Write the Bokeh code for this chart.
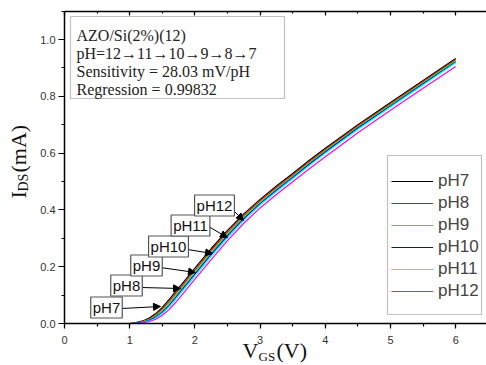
import math
from bokeh.plotting import figure
from bokeh.models import (Range1d, LinearAxis, Label, Arrow, NormalHead, BoxAnnotation,
                          Legend, LegendItem, SingleIntervalTicker, NumeralTickFormatter)
from bokeh.embed import file_html
from bokeh.resources import INLINE

# ---------------- data ----------------
vgs = [0, 0.5, 1.0, 1.1, 1.2, 1.3, 1.4, 1.5, 1.6, 1.7, 1.8, 1.9, 2.0,
       2.25, 2.5, 2.75, 3.0, 3.25, 3.5, 3.75, 4.0, 4.5, 5.0, 5.5, 6.0]
ids_ph7 = [0, 0, 0, 0.003, 0.009, 0.019, 0.035, 0.057, 0.083, 0.111, 0.139, 0.167, 0.195,
           0.264, 0.328, 0.386, 0.437, 0.484, 0.528, 0.574, 0.617, 0.700, 0.778, 0.856, 0.933]
ids_ph8 = [0, 0, 0, 0.002, 0.008, 0.016, 0.031, 0.051, 0.076, 0.104, 0.132, 0.160, 0.188,
           0.257, 0.322, 0.380, 0.432, 0.479, 0.523, 0.569, 0.613, 0.696, 0.774, 0.852, 0.929]
ids_ph9 = [0, 0, 0, 0.001, 0.006, 0.014, 0.027, 0.046, 0.070, 0.097, 0.125, 0.153, 0.181,
           0.250, 0.315, 0.374, 0.427, 0.474, 0.519, 0.564, 0.608, 0.692, 0.770, 0.848, 0.925]
ids_ph10 = [0, 0, 0, 0.001, 0.004, 0.011, 0.023, 0.040, 0.063, 0.090, 0.118, 0.146, 0.174,
            0.243, 0.309, 0.369, 0.422, 0.469, 0.514, 0.560, 0.604, 0.688, 0.766, 0.844, 0.921]
ids_ph11 = [0, 0, 0, 0.000, 0.003, 0.009, 0.019, 0.035, 0.057, 0.083, 0.111, 0.139, 0.167,
            0.236, 0.302, 0.363, 0.417, 0.464, 0.510, 0.555, 0.599, 0.683, 0.762, 0.840, 0.918]
ids_ph12 = [0, 0, 0, 0.000, 0.002, 0.007, 0.015, 0.029, 0.048, 0.073, 0.100, 0.128, 0.156,
            0.225, 0.292, 0.353, 0.407, 0.454, 0.499, 0.544, 0.587, 0.672, 0.751, 0.828, 0.905]
series_names = ["pH7", "pH8", "pH9", "pH10", "pH11", "pH12"]
series_values = [ids_ph7, ids_ph8, ids_ph9, ids_ph10, ids_ph11, ids_ph12]
series_colors = ["#000000", "#FF0000", "#00FF00", "#0000FF", "#00FFFF", "#FF00FF"]

info_lines = ["AZO/Si(2%)(12)",
              "pH=12\u219211\u219210\u21929\u21928\u21927",
              "Sensitivity = 28.03 mV/pH",
              "Regression = 0.99832"]

# ---------------- geometry (page pixels of the reference) ----------------
W, H = 486, 365
X0_PX, Y0_PX = 64, 323        # pixel of (0, 0)
PX_PER_X, PX_PER_Y = 65.2, 284.0
def dx(px):
    return (px - X0_PX) / PX_PER_X
def dy(py):
    return (Y0_PX - py) / PX_PER_Y

Y_TOP = 1.1
X_RIGHT = dx(W)

p = figure(width=W, height=H, output_backend="svg", toolbar_location=None,
           x_range=Range1d(dx(0), dx(W)), y_range=Range1d(dy(H), dy(0)),
           x_axis_type=None, y_axis_type=None,
           min_border_left=0, min_border_right=0, min_border_top=0, min_border_bottom=0)
p.grid.visible = False
p.outline_line_alpha = 0

SANS = "Liberation Sans"
SERIF = "Liberation Serif"

xa = LinearAxis(fixed_location=0, bounds=(0, X_RIGHT),
                ticker=SingleIntervalTicker(interval=1, num_minor_ticks=2))
ya = LinearAxis(fixed_location=0, bounds=(0, Y_TOP),
                ticker=SingleIntervalTicker(interval=0.2, num_minor_ticks=2),
                formatter=NumeralTickFormatter(format="0.0"))
for ax, out, standoff in ((xa, 5, 7), (ya, 6, 3)):
    ax.axis_line_width = 1.5
    ax.axis_line_color = "black"
    ax.major_tick_out = out
    ax.major_tick_in = 0
    ax.minor_tick_out = 3
    ax.minor_tick_in = 0
    ax.major_tick_line_width = 1.2
    ax.minor_tick_line_width = 1.2
    ax.major_label_text_font = SANS
    ax.major_label_text_font_size = "11px"
    ax.major_label_text_color = "#333333"
    ax.major_label_standoff = standoff
p.add_layout(xa, "below")
p.add_layout(ya, "left")

top = LinearAxis(fixed_location=Y_TOP, bounds=(0, X_RIGHT),
                 ticker=SingleIntervalTicker(interval=1, num_minor_ticks=2),
                 major_label_overrides={i: "" for i in range(8)},
                 major_tick_in=4, major_tick_out=0, minor_tick_in=2, minor_tick_out=0,
                 axis_line_width=1.5, major_tick_line_width=1.2, minor_tick_line_width=1.2)
p.add_layout(top, "above")

# ---------------- curves ----------------
items = []
for name, ys, col in zip(series_names, series_values, series_colors):
    r = p.line(vgs, ys, line_color=col, line_width=1.2)
    items.append(LegendItem(label=name, renderers=[r]))

legend = Legend(items=items, location=(387, H - 305), margin=0, padding=4,
                label_text_font=SANS, label_text_font_size="17px",
                glyph_width=42, glyph_height=20, label_height=20, label_standoff=5,
                spacing=2, border_line_alpha=0, background_fill_alpha=0)
p.add_layout(legend, "center")
p.add_layout(BoxAnnotation(left=dx(387), right=dx(481), top=dy(155), bottom=dy(314),
                           fill_alpha=0, line_color="#333333", line_width=1.2))

# ---------------- info box ----------------
p.add_layout(BoxAnnotation(left=dx(70), right=dx(284), top=dy(16), bottom=dy(98),
                           fill_alpha=0, line_color="#333333", line_width=1.2))
for i, t in enumerate(info_lines):
    p.add_layout(Label(x=dx(76), y=dy(34.5 + 18 * i), text=t, text_font=SERIF,
                       text_font_size="16px", text_color="#222222",
                       text_align="left", text_baseline="middle"))

# ---------------- callouts ----------------
box_centers = [(106, 307), (126, 285), (146, 265), (168, 246), (190, 225), (214, 205)]
arrows = [((121, 308), (160, 306)), ((141, 287), (180, 288)), ((160, 267), (195, 272)),
          ((187, 249), (212, 253)), ((208, 226), (227, 237)), ((233, 210), (243, 220))]
for name, (cx, cy), ((x0, y0), (x1, y1)) in zip(series_names, box_centers, arrows):
    p.add_layout(Arrow(x_start=dx(x0), y_start=dy(y0), x_end=dx(x1), y_end=dy(y1),
                       line_width=1, line_color="black",
                       end=NormalHead(size=7, fill_color="black", line_color="black", line_width=1)))
    p.add_layout(Label(x=dx(cx), y=dy(cy), text=name, text_font=SANS,
                       text_font_size="15px", text_color="#111111",
                       text_align="center", text_baseline="middle",
                       border_line_color="#555555", border_line_width=1.2,
                       background_fill_color="white", padding=2))

# ---------------- axis titles ----------------
def lab(x, y, t, size, angle=0.0):
    p.add_layout(Label(x=x, y=y, text=t, text_font=SERIF, text_font_size=size,
                       text_color="#111111", text_align="left", text_baseline="middle",
                       angle=angle))

lab(dx(242), dy(350), "V", "22px")
lab(dx(258), dy(356), "GS", "13px")
lab(dx(276), dy(350), "(V)", "22px")

lab(dx(17.5), dy(198), "I", "22px", math.pi / 2)
lab(dx(23), dy(191), "DS", "14px", math.pi / 2)
lab(dx(17.5), dy(172), "(mA)", "22px", math.pi / 2)

open("out.html", "w").write(file_html(p, INLINE))
